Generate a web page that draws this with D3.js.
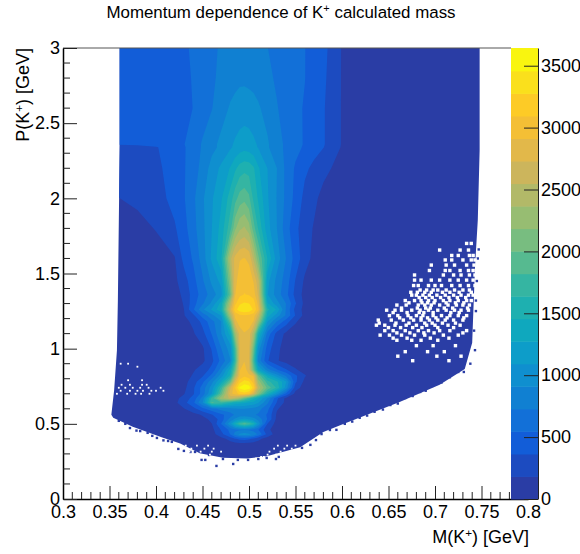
<!DOCTYPE html>
<html>
<head>
<meta charset="utf-8">
<script src="https://cdn.jsdelivr.net/npm/d3@7"></script>
<style>
  body { margin: 0; background: #fff; }
  text { font-family: "Liberation Sans", sans-serif; fill: #000; }
</style>
</head>
<body>
<div id="chart"></div>
<script>
// Bin positions of the read-off grid
const massBins = [0.35, 0.36, 0.38, 0.40, 0.42, 0.43, 0.44, 0.45, 0.46, 0.47, 0.48, 0.485, 0.49, 0.495, 0.50, 0.505, 0.51, 0.52,
  0.53, 0.54, 0.55, 0.56, 0.57, 0.58, 0.60, 0.65, 0.70, 0.75];
const momentumBins = [0.25, 0.36, 0.40, 0.43, 0.46, 0.50, 0.53, 0.56, 0.60, 0.64, 0.67, 0.70, 0.74, 0.78, 0.82, 0.86, 0.92, 1.0,
  1.1, 1.18, 1.22, 1.26, 1.30, 1.36, 1.45, 1.6, 1.8, 2.0, 2.2, 2.34, 2.36, 2.6, 2.8, 3.0];

// Counts per bin, one row per momentum bin
const counts = [
  [50,50,50,50,50,50,50,50,50,50,50,50,50,50,50,50,50,50, 50,50,50,50,50,50,50,50,40,30],
  [70,70,70,70,70,70,70,70,70,70,70,70,70,70,70,70,70,70, 70,70,70,70,70,70,60,50,40,30],
  [70,70,70,70,70,70,70,70,80,120,250,350,420,430,400,320,230,100, 80,70,70,70,70,70,60,50,40,30],
  [70,70,70,70,70,70,80,90,100,300,560,800,950,1000,950,850,700,300, 90,80,70,70,70,70,60,50,40,30],
  [70,70,70,70,70,80,80,90,120,380,600,680,700,720,700,650,550,220, 90,80,70,70,70,70,60,50,40,30],
  [70,70,70,70,80,90,90,100,180,550,1050,1450,1750,1900,1750,1500,1050,350, 100,80,70,70,70,70,60,50,40,30],
  [70,70,70,70,80,90,100,130,220,450,800,950,1100,1150,1100,1000,850,530, 130,90,70,70,70,70,60,50,40,30],
  [70,70,70,70,80,100,120,200,350,500,650,750,800,800,780,750,700,520, 150,90,80,70,70,70,60,50,40,30],
  [70,70,70,70,100,170,300,500,650,800,850,880,900,900,880,850,800,600, 200,100,80,70,70,70,60,50,40,30],
  [70,70,70,70,130,300,500,900,1850,1750,1500,1400,1350,1300,1250,1200,1100,750, 350,120,90,80,70,70,60,50,40,30],
  [70,70,70,70,120,250,430,800,1700,2300,2600,2500,2300,2000,1750,1500,1300,900, 400,130,90,80,70,70,60,50,40,30],
  [70,70,70,70,110,170,340,620,1100,1950,2850,3000,3150,3200,3100,2700,2200,1500, 1000,500,120,90,80,70,60,50,40,30],
  [70,70,70,70,100,130,330,620,1000,1700,2700,3100,3500,3600,3550,3200,2500,1950, 1600,1000,260,100,80,70,60,50,40,30],
  [70,70,70,70,90,110,280,500,850,1300,2000,2800,3200,3350,3300,3000,2300,1700, 1500,1100,400,130,80,70,60,50,40,30],
  [70,70,70,70,80,100,200,340,600,1000,1500,2350,2950,3050,2950,2900,2000,1350, 1000,700,400,200,80,70,60,50,40,30],
  [70,70,70,70,80,90,160,260,420,800,1350,2000,2900,3000,2800,2000,1300,800, 560,380,200,110,80,70,60,50,40,30],
  [70,70,70,70,80,90,110,140,320,600,900,1700,2750,2900,2750,1800,850,380, 200,110,90,80,70,70,60,50,40,30],
  [70,70,70,70,80,90,110,150,380,720,1000,1800,2750,2900,2800,2000,1000,450, 220,110,90,80,70,70,60,50,40,30],
  [70,70,70,70,90,110,160,300,560,900,1350,2300,2800,2900,2850,2400,1500,650, 300,140,100,80,70,70,60,50,40,30],
  [70,70,70,80,100,130,220,420,670,900,1950,2850,3000,3020,3000,2900,2350,1100, 720,450,200,100,80,70,60,50,40,30],
  [70,70,70,80,110,170,320,620,850,1100,2400,2950,3050,3080,3050,3000,2650,1350, 1000,700,350,120,80,70,60,50,40,30],
  [70,70,70,80,110,180,520,870,1120,1420,2700,3200,3380,3420,3400,3250,2950,1500, 1250,700,300,120,80,70,60,50,40,30],
  [70,70,70,80,120,190,470,700,950,1350,2500,3050,3250,3300,3280,3200,2850,1300, 980,720,380,130,80,70,60,50,40,30],
  [70,70,70,80,130,210,450,620,820,1020,2000,2900,3050,3100,3080,3000,2700,1100, 820,600,300,120,80,70,60,50,40,30],
  [70,70,70,80,140,280,480,700,950,1150,2200,2850,3000,3050,3000,2900,2600,1150, 850,640,350,150,100,90,80,60,45,30],
  [70,80,90,110,170,420,570,810,1130,1420,2500,2790,2900,2920,2880,2500,2050,1440, 1010,720,470,260,130,100,80,60,45,30],
  [110,120,130,190,340,480,660,860,1090,1340,1760,2150,2330,2400,2260,1900,1620,1160, 910,620,420,240,170,120,90,60,50,30],
  [180,180,215,280,430,530,690,880,1070,1250,1550,1750,1900,1950,1860,1590,1430,1110, 900,680,490,310,210,140,100,70,50,40],
  [260,260,280,320,450,530,640,790,980,1130,1290,1420,1530,1580,1560,1480,1300,1090, 910,680,520,400,320,220,130,70,50,40],
  [280,280,290,355,430,530,620,750,860,950,1070,1130,1180,1210,1190,1140,1080,930, 800,690,600,520,430,370,165,70,50,40],
  [370,380,400,420,450,540,620,750,860,950,1060,1120,1170,1200,1180,1130,1070,930, 800,690,600,530,440,380,170,70,50,40],
  [370,380,400,420,440,490,550,620,720,840,930,960,980,990,980,960,930,850, 740,650,590,530,440,380,170,70,50,40],
  [380,400,420,430,450,500,560,620,690,780,840,860,880,880,870,860,840,770, 700,640,590,550,460,400,170,70,50,40],
  [400,400,420,430,450,520,570,620,690,750,780,790,800,800,800,790,770,730, 680,630,590,550,480,420,170,60,40,30]
];

// Outline of the filled region
const edgeMass = [0.361, 0.361, 0.359, 0.358, 0.355, 0.352, 0.354, 0.375, 0.406, 0.426, 0.447, 0.472, 0.498, 0.519, 0.555, 0.58,
  0.598, 0.662, 0.705, 0.732, 0.74, 0.741, 0.743, 0.746, 0.748, 0.748];
const edgeMomentum = [3.0, 2.35, 1.32, 0.99, 0.725, 0.56, 0.54, 0.48, 0.41, 0.37, 0.305, 0.275, 0.27, 0.285, 0.345, 0.445,
  0.49, 0.645, 0.76, 0.865, 1.04, 1.21, 1.54, 1.855, 2.32, 3.0];

// Stray filled bins around the edge
const strayMass = [0.417, 0.437, 0.442, 0.449, 0.453, 0.457, 0.465, 0.472, 0.483, 0.488, 0.499, 0.51, 0.519, 0.529, 0.532, 0.557,
  0.367, 0.372, 0.383, 0.391, 0.401, 0.408, 0.413, 0.424, 0.43, 0.566, 0.572, 0.578, 0.587, 0.603, 0.619, 0.635, 0.652, 0.668,
  0.684, 0.697, 0.716, 0.725, 0.738, 0.743, 0.744, 0.747,
  0.36, 0.379, 0.396, 0.594, 0.611, 0.627, 0.644, 0.66, 0.676, 0.69, 0.707, 0.731, 0.742, 0.744, 0.745, 0.746];
const strayMomentum = [0.38, 0.313, 0.313, 0.26, 0.26, 0.293, 0.22, 0.266, 0.233, 0.26, 0.26, 0.266, 0.273, 0.266, 0.28, 0.34,
  0.5, 0.472, 0.452, 0.44, 0.406, 0.39, 0.386, 0.333, 0.32, 0.36, 0.392, 0.432, 0.459, 0.5, 0.54, 0.58, 0.625, 0.672,
  0.712, 0.752, 0.81, 0.845, 0.9, 0.99, 1.32, 1.66,
  0.52, 0.455, 0.42, 0.46, 0.515, 0.555, 0.595, 0.635, 0.685, 0.72, 0.775, 0.845, 1.12, 1.25, 1.45, 1.6];

// Empty bins inside the filled region: momentum of each row, then the masses in that row
const emptyRowMomentum = [1.70, 1.656, 1.62, 1.59, 1.556, 1.52, 1.49, 1.456, 1.42, 1.39, 1.375, 1.356, 1.34, 1.32, 1.305, 1.29, 1.27, 1.256,
  1.24, 1.22, 1.205, 1.19, 1.17, 1.156, 1.14, 1.12, 1.105, 1.09, 1.07, 1.056, 1.02, 0.98, 0.95, 0.92,
  0.90, 0.88, 0.79, 0.76, 0.74, 0.72, 0.70,
  0.355, 0.335, 0.315, 0.295, 0.28];
const emptyRowMass = [
  [0.734, 0.739],
  [0.705, 0.727, 0.736],
  [0.718, 0.725, 0.737, 0.741],
  [0.711, 0.718, 0.73, 0.739, 0.743],
  [0.696, 0.712, 0.721, 0.734, 0.742],
  [0.694, 0.711, 0.716, 0.727, 0.736, 0.741],
  [0.678, 0.709, 0.72, 0.728, 0.737, 0.743],
  [0.678, 0.685, 0.696, 0.705, 0.716, 0.725, 0.734, 0.741],
  [0.677, 0.682, 0.693, 0.7, 0.707, 0.718, 0.727, 0.736, 0.743],
  [0.684, 0.691, 0.698, 0.703, 0.712, 0.721, 0.73, 0.737],
  [0.674, 0.681, 0.689, 0.696, 0.708, 0.716, 0.726, 0.739],
  [0.675, 0.68, 0.687, 0.694, 0.702, 0.711, 0.72, 0.728, 0.736, 0.741],
  [0.683, 0.69, 0.697, 0.706, 0.715, 0.724, 0.733],
  [0.668, 0.678, 0.685, 0.693, 0.7, 0.709, 0.716, 0.725, 0.734, 0.739],
  [0.672, 0.686, 0.692, 0.699, 0.712, 0.722, 0.731],
  [0.659, 0.669, 0.682, 0.689, 0.696, 0.705, 0.714, 0.723, 0.73, 0.737],
  [0.664, 0.681, 0.69, 0.695, 0.71, 0.719, 0.735],
  [0.648, 0.657, 0.664, 0.675, 0.684, 0.693, 0.703, 0.712, 0.721, 0.728, 0.736],
  [0.655, 0.67, 0.683, 0.688, 0.698, 0.717, 0.726],
  [0.651, 0.66, 0.671, 0.68, 0.687, 0.698, 0.707, 0.716, 0.725, 0.734],
  [0.662, 0.674, 0.685, 0.692, 0.701, 0.713, 0.731],
  [0.639, 0.653, 0.666, 0.677, 0.685, 0.694, 0.703, 0.711, 0.72, 0.73],
  [0.64, 0.658, 0.672, 0.689, 0.697, 0.708, 0.722],
  [0.637, 0.646, 0.657, 0.669, 0.68, 0.691, 0.7, 0.714, 0.727],
  [0.65, 0.663, 0.676, 0.686, 0.703, 0.72],
  [0.646, 0.655, 0.668, 0.682, 0.693, 0.705, 0.716, 0.734],
  [0.659, 0.673, 0.688, 0.699, 0.73],
  [0.641, 0.651, 0.664, 0.678, 0.689, 0.709, 0.725],
  [0.655, 0.67, 0.695, 0.715],
  [0.659, 0.675, 0.685, 0.703],
  [0.68, 0.698, 0.722],
  [0.668, 0.692, 0.71],
  [0.66, 0.702, 0.728],
  [0.676, 0.715],
  [0.362, 0.37],
  [0.38],
  [0.37, 0.385],
  [0.363, 0.372, 0.385, 0.39],
  [0.36, 0.367, 0.375, 0.383, 0.392, 0.405],
  [0.362, 0.372, 0.38, 0.386, 0.395, 0.4, 0.408],
  [0.358, 0.369, 0.378, 0.384, 0.393],
  [0.432, 0.444, 0.456, 0.531, 0.541, 0.55],
  [0.428, 0.438, 0.452, 0.462, 0.527, 0.538, 0.546],
  [0.436, 0.448, 0.46, 0.47, 0.522, 0.534],
  [0.444, 0.458, 0.52, 0.529],
  [0.513, 0.516]
];

// Colour bar: lower edge of each band and its colour
const bandLevels = [0, 182, 364, 546, 728, 910, 1092, 1274, 1456, 1638, 1820, 2002, 2184, 2366, 2548, 2730, 2912, 3094, 3276, 3458];
const bandColors = ["#2a3da5", "#1c4bc0", "#125dd8", "#1270d8", "#1080d2", "#0f8fcf", "#0d9dc9", "#0fa8be", "#1eb0b0", "#35b5a2",
  "#56ba90", "#78bd80", "#97bd72", "#b2b968", "#ccb55c", "#e2b84a", "#f4bf35", "#fdcb26", "#fae01c", "#f9f50f"];
const maxCount = 3643;

const massTicks = [0.3, 0.35, 0.4, 0.45, 0.5, 0.55, 0.6, 0.65, 0.7, 0.75, 0.8];
const massTickLabels = ["0.3", "0.35", "0.4", "0.45", "0.5", "0.55", "0.6", "0.65", "0.7", "0.75", "0.8"];
const massMinorTicks = [0.31, 0.32, 0.33, 0.34, 0.36, 0.37, 0.38, 0.39, 0.41, 0.42, 0.43, 0.44, 0.46, 0.47, 0.48, 0.49, 0.51, 0.52,
  0.53, 0.54, 0.56, 0.57, 0.58, 0.59, 0.61, 0.62, 0.63, 0.64, 0.66, 0.67, 0.68, 0.69, 0.71, 0.72, 0.73, 0.74, 0.76, 0.77, 0.78, 0.79];
const momentumTicks = [0, 0.5, 1, 1.5, 2, 2.5, 3];
const momentumTickLabels = ["0", "0.5", "1", "1.5", "2", "2.5", "3"];
const momentumMinorTicks = [0.1, 0.2, 0.3, 0.4, 0.6, 0.7, 0.8, 0.9, 1.1, 1.2, 1.3, 1.4, 1.6, 1.7, 1.8, 1.9, 2.1, 2.2, 2.3, 2.4,
  2.6, 2.7, 2.8, 2.9];
const countTicks = [0, 500, 1000, 1500, 2000, 2500, 3000, 3500];

const width = 580;
const height = 554;
const fontSize = 18;

const svg = d3.select("#chart")
  .append("svg")
  .attr("width", width)
  .attr("height", height)
  .style("display", "block");

const x = d3.scaleLinear().domain([0.3, 0.8]).range([63, 528]);
const y = d3.scaleLinear().domain([0, 3]).range([499, 48]);
const z = d3.scaleLinear().domain([0, maxCount]).range([499, 48]);

// Clip everything to the filled region
const edgeLine = d3.line()
  .x(function (d, i) { return x(edgeMass[i]); })
  .y(function (d, i) { return y(edgeMomentum[i]); })
  .curve(d3.curveLinearClosed);

svg.append("clipPath").attr("id", "edge")
  .append("path")
  .attr("d", edgeLine(edgeMass));

const heat = svg.append("g");

heat.append("path")
  .attr("d", edgeLine(edgeMass))
  .style("fill", bandColors[0]);

// Contour bands, grid index mapped back onto the non uniform bins
const indexToMass = d3.scaleLinear()
  .domain([0].concat(massBins.map(function (d, i) { return i + 0.5; }), [massBins.length]))
  .range([massBins[0]].concat(massBins, [massBins[massBins.length - 1]]));
const indexToMomentum = d3.scaleLinear()
  .domain([0].concat(momentumBins.map(function (d, i) { return i + 0.5; }), [momentumBins.length]))
  .range([momentumBins[0]].concat(momentumBins, [momentumBins[momentumBins.length - 1]]));

const contourPath = d3.geoPath(d3.geoTransform({
  point: function (px, py) {
    this.stream.point(x(indexToMass(px)), y(indexToMomentum(py)));
  }
}));

const contours = d3.contours()
  .size([massBins.length, momentumBins.length])
  .thresholds(bandLevels.slice(1))(counts.flat());

heat.append("g")
  .attr("clip-path", "url(#edge)")
  .selectAll("path")
  .data(contours)
  .join("path")
  .attr("d", contourPath)
  .style("fill", function (d, i) { return bandColors[i + 1]; });

// Stray filled bins
heat.append("g")
  .selectAll("rect")
  .data(strayMass)
  .join("rect")
  .attr("x", function (d) { return x(d) - 1.2; })
  .attr("y", function (d, i) { return y(strayMomentum[i]) - 1.2; })
  .attr("width", 2.4)
  .attr("height", 2.4)
  .style("fill", bandColors[0]);

// Empty bins, larger in the sparse high mass part
const emptyCells = emptyRowMass.flatMap(function (row, i) {
  return row.map(function (m) { return { mass: m, momentum: emptyRowMomentum[i] }; });
});

heat.append("g")
  .selectAll("rect")
  .data(emptyCells)
  .join("rect")
  .attr("x", function (d) { return x(d.mass) - (d.mass > 0.6 ? 1.7 : 0.9); })
  .attr("y", function (d) { return y(d.momentum) - (d.mass > 0.6 ? 1.7 : 0.9); })
  .attr("width", function (d) { return d.mass > 0.6 ? 3.4 : 1.8; })
  .attr("height", function (d) { return d.mass > 0.6 ? 3.4 : 1.8; })
  .style("fill", "#fff");

// Top frame line
svg.append("line")
  .attr("x1", 63).attr("x2", 511)
  .attr("y1", 48).attr("y2", 48)
  .style("stroke", "#555");

// X axis
const xAxis = svg.append("g")
  .attr("transform", "translate(0, 499)")
  .call(d3.axisBottom(x)
    .tickValues(massTicks)
    .tickFormat(function (d, i) { return massTickLabels[i]; })
    .tickSizeInner(-13)
    .tickSizeOuter(0)
    .tickPadding(6));
xAxis.selectAll(".tick").filter(function (d) { return d === 0.8; }).select("line").remove();
xAxis.select(".domain").style("stroke", "#000").style("stroke-width", 1.5);
xAxis.selectAll("text").style("font-size", fontSize + "px").style("font-family", '"Liberation Sans", sans-serif');
xAxis.selectAll(".tick line").style("stroke", "#222");

svg.append("g")
  .attr("transform", "translate(0, 499)")
  .selectAll("line")
  .data(massMinorTicks)
  .join("line")
  .attr("x1", function (d) { return x(d); })
  .attr("x2", function (d) { return x(d); })
  .attr("y2", -7)
  .style("stroke", "#222");

// Y axis
const yAxis = svg.append("g")
  .attr("transform", "translate(63, 0)")
  .call(d3.axisLeft(y)
    .tickValues(momentumTicks)
    .tickFormat(function (d, i) { return momentumTickLabels[i]; })
    .tickSizeInner(-14)
    .tickSizeOuter(0)
    .tickPadding(3));
yAxis.select(".domain").style("stroke", "#000").style("stroke-width", 1.5);
yAxis.selectAll("text").style("font-size", fontSize + "px").style("font-family", '"Liberation Sans", sans-serif');
yAxis.selectAll(".tick line").style("stroke", "#222");

svg.append("g")
  .attr("transform", "translate(63, 0)")
  .selectAll("line")
  .data(momentumMinorTicks)
  .join("line")
  .attr("y1", function (d) { return y(d); })
  .attr("y2", function (d) { return y(d); })
  .attr("x2", 7)
  .style("stroke", "#222");

// Colour bar
svg.append("g")
  .selectAll("rect")
  .data(bandLevels)
  .join("rect")
  .attr("x", 511)
  .attr("width", 27)
  .attr("y", function (d, i) { return z(i < bandLevels.length - 1 ? bandLevels[i + 1] : maxCount); })
  .attr("height", function (d, i) { return z(d) - z(i < bandLevels.length - 1 ? bandLevels[i + 1] : maxCount) + 0.5; })
  .style("fill", function (d, i) { return bandColors[i]; });

const colorAxis = svg.append("g")
  .attr("transform", "translate(538, 0)")
  .call(d3.axisRight(z)
    .tickValues(countTicks)
    .tickFormat(d3.format("d"))
    .tickSizeInner(-14)
    .tickSizeOuter(0)
    .tickPadding(3));
colorAxis.select(".domain").style("stroke", "#222");
colorAxis.selectAll("text").style("font-size", fontSize + "px").style("font-family", '"Liberation Sans", sans-serif');
colorAxis.selectAll(".tick line").style("stroke", "#222");

// Text with a superscript plus sign
function addTitle(parent, before, after) {
  const t = parent.append("text");
  t.append("tspan").text(before);
  t.append("tspan").attr("dy", -6).style("font-size", "0.65em").text("+");
  t.append("tspan").attr("dy", 6).text(after);
  return t;
}

addTitle(svg, "Momentum dependence of K", " calculated mass")
  .attr("x", 281)
  .attr("y", 18)
  .attr("text-anchor", "middle")
  .style("font-size", "16.9px");

addTitle(svg, "M(K", ") [GeV]")
  .attr("x", 529)
  .attr("y", 543)
  .attr("text-anchor", "end")
  .style("font-size", "18px");

addTitle(svg, "P(K", ") [GeV]")
  .attr("transform", "translate(29, 48) rotate(-90)")
  .attr("text-anchor", "end")
  .style("font-size", "18px");
</script>
</body>
</html>
